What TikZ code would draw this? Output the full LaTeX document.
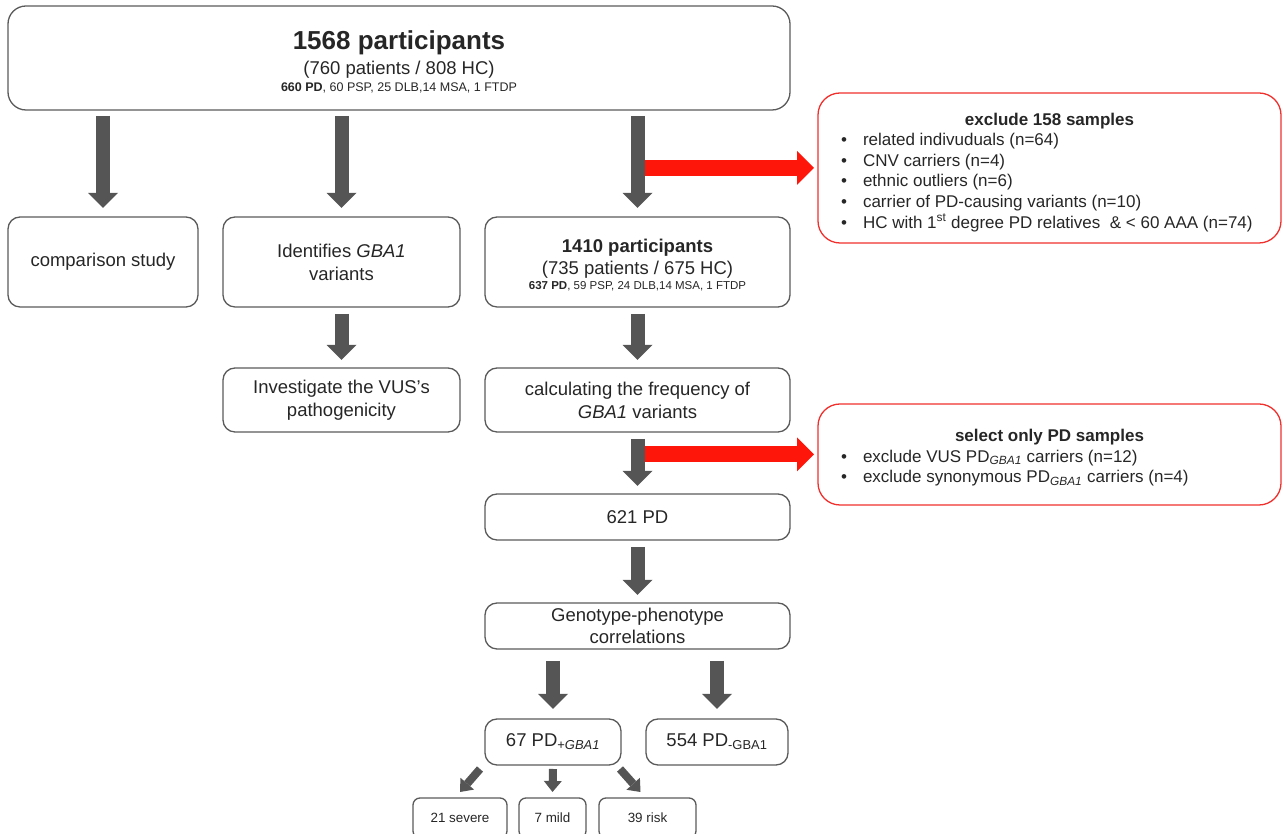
\documentclass[tikz,border=0pt]{standalone}
\usepackage{fontspec}
\setmainfont{Liberation Sans}
\usetikzlibrary{arrows.meta,positioning}
\definecolor{boxgray}{HTML}{5A5A5A}
\definecolor{arrowgray}{HTML}{555555}
\definecolor{boxred}{HTML}{F0302C}
\definecolor{arrowred}{HTML}{FF160A}
\definecolor{textdark}{HTML}{262626}
\newcommand\fsmain{\fontsize{18.5}{23}\selectfont}
\newcommand\fstitle{\fontsize{26}{28}\selectfont\bfseries}
\newcommand\fsnote{\fontsize{12.5}{15}\selectfont}
\newcommand\fsnotesm{\fontsize{11.5}{14}\selectfont}
\newcommand\fsred{\fontsize{17}{20.6}\selectfont}
\newcommand\fssmall{\fontsize{13.4}{16}\selectfont}
\newcommand\bul{\hspace*{3pt}\makebox[22pt][l]{\textbullet}}
\tikzset{
  box/.style       = {rectangle,draw=boxgray,line width=1.3pt,rounded corners=12pt,align=center,text=textdark,font=\fsmain,inner sep=2pt,outer sep=0pt,anchor=north west},
  topbox/.style    = {box,rounded corners=18pt},
  smallbox/.style  = {box,rounded corners=7pt,font=\fssmall},
  exclbox/.style   = {rectangle,draw=boxred,line width=1.3pt,rounded corners=22pt,align=left,text=textdark,font=\fsred,inner sep=0pt,outer sep=0pt,anchor=north west,minimum width=463pt},
  down/.style      = {draw=arrowgray,line width=14pt,-{Triangle[width=30pt,length=15pt,line width=0pt]},shorten <=7pt,shorten >=8pt},
  smalldown/.style = {draw=arrowgray,line width=8pt,-{Triangle[width=18pt,length=11pt,line width=0pt]}},
  cut/.style       = {draw=arrowred,line width=16pt,-{Triangle[width=34pt,length=17pt,line width=0pt]},shorten >=4pt},
}
\begin{document}
\begin{tikzpicture}[x=1pt,y=1pt]
\useasboundingbox (0,0) rectangle (1283,834);
% main column
\node[topbox,minimum width=782pt,minimum height=104pt,text height=70pt,text depth=2pt] (all) at (8,828)
  {{\fstitle 1568 participants}\\[2pt] (760 patients / 808 HC)\\[-6pt]
   {\fsnote\textbf{660 PD}, 60 PSP, 25 DLB,14 MSA, 1 FTDP}};
\node[box,minimum width=190pt,minimum height=90pt] (cmp) at (8,617) {comparison study};
\node[box,minimum width=237pt,minimum height=90pt] (gba) [right=25pt of cmp] {Identifies \textit{GBA1}\\variants};
\node[box,minimum width=305pt,minimum height=90pt,text height=58.5pt,text depth=2.5pt] (p1410) [right=25pt of gba]
  {\textbf{1410 participants}\\[-1pt] (735 patients / 675 HC)\\[-8pt]
   {\fsnotesm\textbf{637 PD}, 59 PSP, 24 DLB,14 MSA, 1 FTDP}};
\node[box,minimum width=237pt,minimum height=64pt] (vus) [below=61pt of gba] {Investigate the VUS’s\\pathogenicity};
\node[box,minimum width=305pt,minimum height=64pt] (freq) [below=61pt of p1410] {calculating the frequency of\\\textit{GBA1} variants};
\node[box,minimum width=305pt,minimum height=46pt] (pd621) [below=62pt of freq] {621 PD};
\node[box,minimum width=305pt,minimum height=46pt] (geno) [below=63pt of pd621] {Genotype-phenotype\\[-1pt]correlations};
\node[box,minimum width=136pt,minimum height=46pt] (pdpos) [below=70pt of geno.south west,anchor=north west] {67 PD\textsubscript{+\itshape GBA1}};
\node[box,minimum width=142pt,minimum height=46pt] (pdneg) [right=25pt of pdpos] {554 PD\textsubscript{-GBA1}};
\node[smallbox,minimum width=94pt,minimum height=40pt] (sev) at (413,36) {21 severe};
\node[smallbox,minimum width=67pt,minimum height=40pt] (mild) [right=12pt of sev] {7 mild};
\node[smallbox,minimum width=97pt,minimum height=40pt] (risk) [right=13pt of mild] {39 risk};
% exclusion boxes
\node[exclbox,minimum height=150pt,text height=124pt,text depth=3.6pt] (excl) at (818,741)
  {\makebox[423pt][c]{\bfseries exclude 158 samples}\\
   \bul related indivuduals (n=64)\\
   \bul CNV carriers (n=4)\\
   \bul ethnic outliers (n=6)\\
   \bul carrier of PD-causing variants (n=10)\\
   \bul HC with 1\textsuperscript{st} degree PD relatives\ \ \& < 60 AAA (n=74)};
\node[exclbox,minimum height=101pt,text height=60.6pt,text depth=3.6pt] (sel) at (818,430)
  {\makebox[423pt][c]{\bfseries select only PD samples}\\
   \bul exclude VUS PD\textsubscript{\itshape GBA1} carriers (n=12)\\
   \bul exclude synonymous PD\textsubscript{\itshape GBA1} carriers (n=4)};
% red side arrows first, grey arrows on top
\draw[cut] (excl.west -| p1410.north) -- (excl.west);
\draw[cut] (sel.west -| freq.south) -- (sel.west);
\draw[down,shorten <=6pt,shorten >=9pt] (all.south -| cmp.north) -- (cmp.north);
\draw[down,shorten <=6pt,shorten >=9pt] (all.south -| gba.north) -- (gba.north);
\draw[down,shorten <=6pt,shorten >=9pt] (all.south -| p1410.north) -- (p1410.north);
\draw[down] (gba) -- (vus);
\draw[down] (p1410) -- (freq);
\draw[down] (freq) -- (pd621);
\draw[down] (pd621) -- (geno);
\draw[down,shorten <=12pt,shorten >=10pt] (geno.south -| pdpos.north) -- (pdpos.north);
\draw[down,shorten <=12pt,shorten >=10pt] (geno.south -| pdneg.north) -- (pdneg.north);
\draw[smalldown] ([shift={(-5pt,-4pt)}]pdpos.south west) -- ([yshift=6pt]sev.north);
\draw[smalldown] ([yshift=-4pt]pdpos.south) -- ([yshift=6pt]mild.north);
\draw[smalldown] ([shift={(-1pt,-4pt)}]pdpos.south east) -- ([shift={(-7pt,6pt)}]risk.north);
\end{tikzpicture}
\end{document}
